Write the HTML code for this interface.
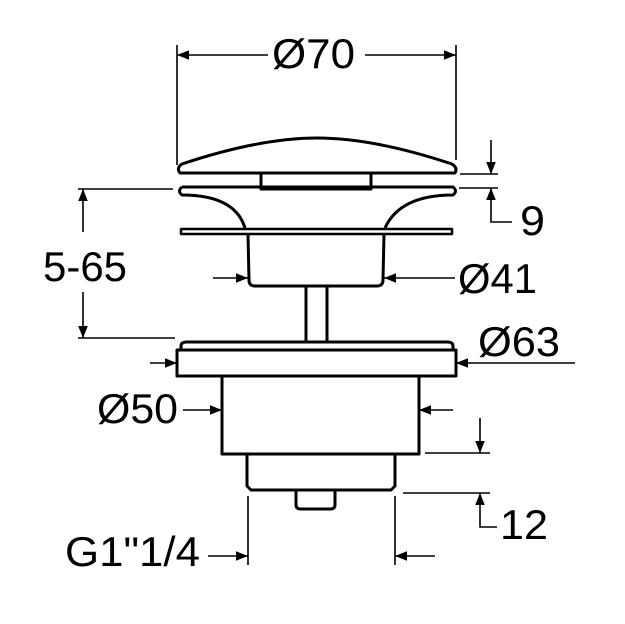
<!DOCTYPE html>
<html><head><style>
html,body{margin:0;padding:0;background:#fff;}
svg{display:block;}
text{font-family:"Liberation Sans",sans-serif;fill:#000;}
</style></head><body>
<svg width="625" height="624" viewBox="0 0 625 624" xmlns="http://www.w3.org/2000/svg">
<defs>
<marker id="a" viewBox="0 0 10 10" refX="10" refY="5" markerWidth="12" markerHeight="12" markerUnits="userSpaceOnUse" orient="auto"><path d="M0,1 L10,5 L0,9 Z" fill="#000"/></marker>
</defs>
<g fill="none" stroke="#000" stroke-width="3" stroke-linejoin="round">
<path d="M180,173 Q176,168 182,164 Q260,138 317,138 Q374,138 452,164 Q458,168 455,173 Z"/>
<rect x="261" y="173" width="110" height="16"/>
<path d="M182,187 L453,187 Q458,191 453,195 Q400,195 385,228 M182,187 Q177,191 182,195 Q235,195 245,228"/>
<rect x="181" y="229" width="271" height="5" stroke-width="2.5"/>
<path d="M248,234 L249,280 Q249,286 255,286 L377,286 Q383,286 383,280 L384,234"/>
<path d="M306,286 L306,342 M327,286 L327,342"/>
<path d="M181,350 L181,346 Q181,342 187,342 L447,342 Q453,342 453,346 L453,350"/>
<rect x="177" y="350" width="279" height="26"/>
<rect x="222" y="376" width="197" height="78"/>
<path d="M247,454 L247,486 L251,490 L391,490 L395,486 L395,454"/>
<path d="M296,490 L296,505 Q296,509 301,509 L330,509 Q335,509 335,505 L335,490"/>
</g>
<g fill="none" stroke="#000" stroke-width="1.6">
<path d="M177,45 L177,165 M456,45 L456,160"/>
<path d="M268,55 L177,55" marker-end="url(#a)"/>
<path d="M365,55 L456,55" marker-end="url(#a)"/>
<path d="M460,174 L498,174 M459,188 L498,188"/>
<path d="M491,140 L491,174" marker-end="url(#a)"/>
<path d="M512,222 L491,222 L491,188" marker-end="url(#a)"/>
<path d="M78,189 L173,189 M78,338 L175,338"/>
<path d="M83,232 L83,189" marker-end="url(#a)"/>
<path d="M83,292 L83,338" marker-end="url(#a)"/>
<path d="M213,278 L248,278" marker-end="url(#a)"/>
<path d="M455,278 L384,278" marker-end="url(#a)"/>
<path d="M150,363 L177,363" marker-end="url(#a)"/>
<path d="M575,363 L456,363" marker-end="url(#a)"/>
<path d="M183,410 L222,410" marker-end="url(#a)"/>
<path d="M453,410 L419,410" marker-end="url(#a)"/>
<path d="M425,453 L490,453 M403,493 L490,493"/>
<path d="M480,418 L480,453" marker-end="url(#a)"/>
<path d="M497,527 L480,527 L480,493" marker-end="url(#a)"/>
<path d="M248,496 L248,565 M395,496 L395,565"/>
<path d="M208,556 L248,556" marker-end="url(#a)"/>
<path d="M435,556 L395,556" marker-end="url(#a)"/>
</g>
<g font-size="42" lengthAdjust="spacingAndGlyphs">
<text x="272" y="68" textLength="83" lengthAdjust="spacingAndGlyphs">Ø70</text>
<text x="520" y="235" textLength="25" lengthAdjust="spacingAndGlyphs">9</text>
<text x="43" y="281" textLength="84" lengthAdjust="spacingAndGlyphs">5-65</text>
<text x="458" y="293" textLength="79" lengthAdjust="spacingAndGlyphs">Ø41</text>
<text x="478" y="356" textLength="82" lengthAdjust="spacingAndGlyphs">Ø63</text>
<text x="97" y="423" textLength="81" lengthAdjust="spacingAndGlyphs">Ø50</text>
<text x="500" y="539" textLength="48" lengthAdjust="spacingAndGlyphs">12</text>
<text x="65" y="566" textLength="135" lengthAdjust="spacingAndGlyphs">G1"1/4</text>
</g>
</svg>
</body></html>
